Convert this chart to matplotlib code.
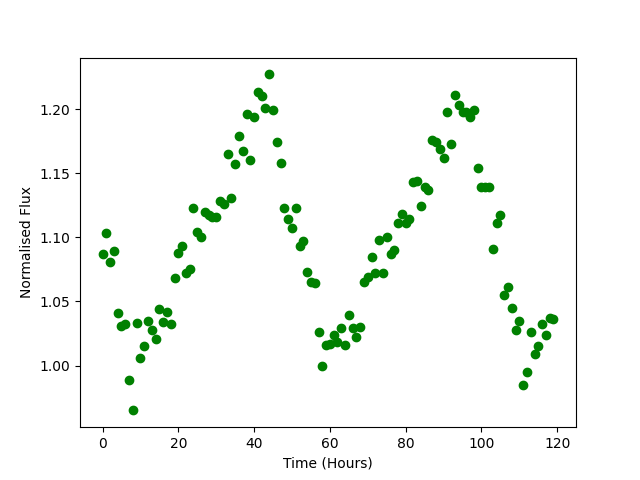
import numpy as np
import matplotlib
matplotlib.use('Agg')
import matplotlib.pyplot as plt

# Tiempo en horas (una medida por hora)
hours = list(range(120))

# Flujo normalizado
flux = [
    1.087, 1.103, 1.081, 1.089, 1.041, 1.031, 1.032, 0.989, 0.965, 1.033,
    1.006, 1.015, 1.035, 1.028, 1.021, 1.044, 1.034, 1.042, 1.032, 1.068,
    1.088, 1.093, 1.072, 1.075, 1.123, 1.104, 1.100, 1.120, 1.117, 1.116,
    1.116, 1.128, 1.126, 1.165, 1.131, 1.157, 1.179, 1.167, 1.196, 1.160,
    1.194, 1.213, 1.210, 1.201, 1.227, 1.199, 1.174, 1.158, 1.123, 1.114,
    1.107, 1.123, 1.093, 1.097, 1.073, 1.065, 1.064, 1.026, 1.000, 1.016,
    1.017, 1.024, 1.018, 1.029, 1.016, 1.039, 1.029, 1.022, 1.030, 1.065,
    1.069, 1.085, 1.072, 1.098, 1.072, 1.100, 1.087, 1.090, 1.111, 1.118,
    1.111, 1.114, 1.143, 1.144, 1.124, 1.139, 1.137, 1.176, 1.174, 1.169,
    1.162, 1.198, 1.173, 1.211, 1.203, 1.198, 1.198, 1.194, 1.199, 1.154,
    1.139, 1.139, 1.139, 1.091, 1.111, 1.117, 1.055, 1.061, 1.045, 1.028,
    1.035, 0.985, 0.995, 1.026, 1.009, 1.015, 1.032, 1.024, 1.037, 1.036,
]

fig, ax = plt.subplots(figsize=(6.4, 4.8), dpi=100)
ax.plot(hours, flux, 'o', color='green')
ax.set_xlabel('Time (Hours)')
ax.set_ylabel('Normalised Flux')

plt.savefig('out.png', dpi=100)
plt.close()
